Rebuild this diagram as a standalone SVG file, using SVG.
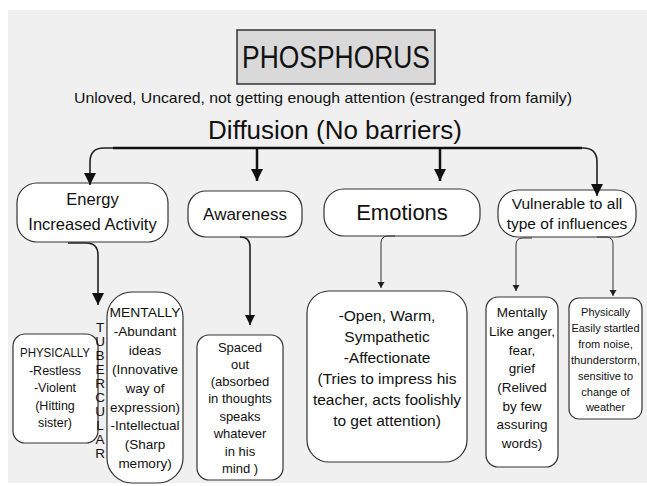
<svg xmlns="http://www.w3.org/2000/svg" width="647" height="486" viewBox="0 0 647 486">
<style>
text{font-family:"Liberation Sans",Arial,sans-serif;fill:#111;text-anchor:middle}
.box{fill:#fff;stroke:#333;stroke-width:1.2}
.thick{fill:none;stroke:#111;stroke-width:2.5}
.mid{fill:none;stroke:#222;stroke-width:1.6}
.thin{fill:none;stroke:#333;stroke-width:1}
</style>
<defs>
<marker id="ah" markerUnits="userSpaceOnUse" markerWidth="14" markerHeight="12" refX="12" refY="6" orient="auto"><path d="M0,0 L12,6 L0,12 z" fill="#111"/></marker>
<marker id="am" markerUnits="userSpaceOnUse" markerWidth="12" markerHeight="11" refX="10" refY="5" orient="auto"><path d="M0,0 L10,5 L0,10 z" fill="#111"/></marker>
<marker id="as" markerUnits="userSpaceOnUse" markerWidth="8" markerHeight="8" refX="6" refY="3.5" orient="auto"><path d="M0,0 L6,3.5 L0,7 z" fill="#222"/></marker>
</defs>
<rect x="8" y="10" width="639" height="473" fill="#f0f0f0"/>
<g id="title">
<rect x="237" y="30" width="198" height="54" fill="#d9d9d9" stroke="#333" stroke-width="1.5"/>
<text x="336" y="68" font-size="31" textLength="188" lengthAdjust="spacingAndGlyphs">PHOSPHORUS</text>
</g>
<g id="subtitle"><text x="323" y="103" font-size="14.5" textLength="498" lengthAdjust="spacingAndGlyphs">Unloved, Uncared, not getting enough attention (estranged from family)</text></g>
<g id="diffusion"><text x="335" y="139" font-size="26">Diffusion (No barriers)</text></g>
<g id="energy"><rect class="box" x="17" y="183" width="151" height="59" rx="20"/>
<text x="92.5" y="205" font-size="16.5">Energy</text><text x="92.5" y="230" font-size="16.5">Increased Activity</text></g>
<g id="awareness"><rect class="box" x="188" y="191" width="114" height="46" rx="18"/>
<text x="245" y="220" font-size="17">Awareness</text></g>
<g id="emotions"><rect class="box" x="324" y="189" width="156" height="47" rx="20"/>
<text x="402" y="220" font-size="22">Emotions</text></g>
<g id="vulnerable"><rect class="box" x="498" y="190" width="138" height="47" rx="20"/>
<text x="567" y="209" font-size="15.5">Vulnerable to all</text><text x="567" y="229" font-size="15.5">type of influences</text></g>
<g id="physically-left"><rect class="box" x="13" y="334" width="85" height="109" rx="12"/>
<text font-size="12.5"><tspan x="55" y="357" textLength="70" lengthAdjust="spacingAndGlyphs">PHYSICALLY</tspan><tspan x="55" y="374.5">-Restless</tspan><tspan x="55" y="392">-Violent</tspan><tspan x="55" y="409.5">(Hitting</tspan><tspan x="55" y="427">sister)</tspan></text></g>
<g id="tubercular"><text font-size="13.5">
<tspan x="100" y="332">T</tspan><tspan x="100" y="346">U</tspan><tspan x="100" y="360">B</tspan><tspan x="100" y="374">E</tspan><tspan x="100" y="388">R</tspan><tspan x="100" y="402">C</tspan><tspan x="100" y="416">U</tspan><tspan x="100" y="430">L</tspan><tspan x="100" y="444">A</tspan><tspan x="100" y="458">R</tspan></text></g>
<g id="mentally-left"><rect class="box" x="107" y="292" width="76" height="191" rx="25" stroke-width="2"/>
<text font-size="13.5"><tspan x="145" y="317" textLength="71" lengthAdjust="spacingAndGlyphs">MENTALLY</tspan><tspan x="145" y="336">-Abundant</tspan><tspan x="145" y="355">ideas</tspan><tspan x="145" y="374">(Innovative</tspan><tspan x="145" y="392.5">way of</tspan><tspan x="145" y="411.5">expression)</tspan><tspan x="145" y="430">-Intellectual</tspan><tspan x="145" y="449">(Sharp</tspan><tspan x="145" y="468">memory)</tspan></text></g>
<g id="spaced-out"><rect class="box" x="197" y="335" width="86" height="145" rx="12"/>
<text font-size="13"><tspan x="240" y="352">Spaced</tspan><tspan x="240" y="369">out</tspan><tspan x="240" y="386">(absorbed</tspan><tspan x="240" y="403">in thoughts</tspan><tspan x="240" y="420.5">speaks</tspan><tspan x="240" y="438">whatever</tspan><tspan x="240" y="456">in his</tspan><tspan x="240" y="473">mind )</tspan></text></g>
<g id="emotions-detail"><rect class="box" x="307" y="291" width="160" height="171" rx="22"/>
<text font-size="15.5"><tspan x="387" y="320.5">-Open, Warm,</tspan><tspan x="387" y="341.5">Sympathetic</tspan><tspan x="387" y="363">-Affectionate</tspan><tspan x="387" y="384">(Tries to impress his</tspan><tspan x="387" y="405">teacher, acts foolishly</tspan><tspan x="387" y="426">to get attention)</tspan></text></g>
<g id="mentally-right"><rect class="box" x="486" y="297" width="72" height="170" rx="12"/>
<text font-size="13.5"><tspan x="522" y="317">Mentally</tspan><tspan x="522" y="336">Like anger,</tspan><tspan x="522" y="355">fear,</tspan><tspan x="522" y="373">grief</tspan><tspan x="522" y="392">(Relived</tspan><tspan x="522" y="411">by few</tspan><tspan x="522" y="429">assuring</tspan><tspan x="522" y="448">words)</tspan></text></g>
<g id="physically-right"><rect class="box" x="569" y="298" width="73" height="121" rx="10"/>
<text font-size="11"><tspan x="605.5" y="316">Physically</tspan><tspan x="605.5" y="332" textLength="68" lengthAdjust="spacingAndGlyphs">Easily startled</tspan><tspan x="605.5" y="348">from noise,</tspan><tspan x="605.5" y="364" textLength="69" lengthAdjust="spacingAndGlyphs">thunderstorm,</tspan><tspan x="605.5" y="380">sensitive to</tspan><tspan x="605.5" y="396">change of</tspan><tspan x="605.5" y="411">weather</tspan></text></g>
<g id="connectors">
<path class="thick" d="M113 148 H582"/>
<path class="mid" d="M113 148 H104 Q90 148 90 162 V185" marker-end="url(#ah)"/>
<path class="mid" d="M580 148 H583 Q597 148 597 162 V196" marker-end="url(#ah)"/>
<path class="thick" d="M257 148 V181" marker-end="url(#ah)"/>
<path class="thick" d="M440 148 V181" marker-end="url(#ah)"/>
<path class="mid" d="M68 243 H86 Q98 243 98 255 V305" marker-end="url(#ah)"/>
<path class="mid" d="M240 237 Q250 237 250 247 V325" marker-end="url(#am)"/>
<path class="thin" d="M395 236 H388 Q381 236 381 243 V288" marker-end="url(#as)"/>
<path class="thin" d="M532 238 H523 Q516 238 516 245 V291" marker-end="url(#as)"/>
<path class="thin" d="M597 237 H606 Q613 237 613 244 V296" marker-end="url(#as)"/>
</g>
</svg>
